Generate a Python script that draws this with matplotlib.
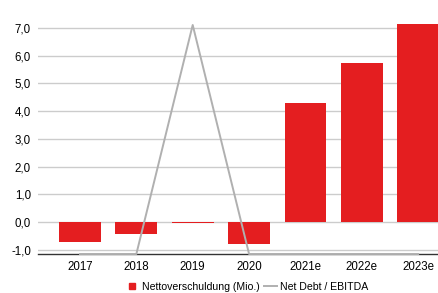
import numpy as np
import matplotlib.pyplot as plt
from matplotlib.lines import Line2D

plt.rcParams['font.family'] = ['Liberation Sans', 'DejaVu Sans']

years = ['2017', '2018', '2019', '2020', '2021e', '2022e', '2023e']
net_debt = [-0.70, -0.42, -0.02, -0.78, 4.28, 5.72, 7.14]
# values below the axis are pinned to the bottom edge, as in the source chart
net_debt_ebitda = [-1.15, -1.15, 7.1, -1.15, -1.15, -1.15, -1.15]
yticks = [-1, 0, 1, 2, 3, 4, 5, 6, 7]

red = '#e41e20'
grey = '#b0b0b0'

fig = plt.figure(figsize=(4.39, 2.93), dpi=100)
ax = fig.add_axes([38 / 439, 39 / 293, 401 / 439, 254 / 293])

x = np.arange(len(years))
ax.bar(x, net_debt, width=0.74, color=red, zorder=2)
ax.plot(x, net_debt_ebitda, color=grey, lw=1.4, zorder=5, clip_on=False)

ax.set_xlim(-0.745, 6.37)
ax.set_ylim(-1.15, 8.0)
ax.set_yticks(yticks)
ax.set_yticklabels([f'{v:.1f}'.replace('.', ',') for v in yticks], fontsize=8.3)
ax.set_xticks(x)
ax.set_xticklabels(years, fontsize=8.3)
ax.tick_params(length=0, pad=5)
ax.grid(True, axis='y', color='#cccccc', lw=1, zorder=0)
for s in ['top', 'right', 'left']:
    ax.spines[s].set_visible(False)
ax.spines['bottom'].set_color('#333333')
ax.spines['bottom'].set_linewidth(1)

handles = [Line2D([], [], ls='none', marker='s', markersize=5, color=red,
                  label='Nettoverschuldung (Mio.)'),
           Line2D([], [], color=grey, lw=1.4, label='Net Debt / EBITDA')]
fig.legend(handles=handles, loc='center', bbox_to_anchor=(247 / 439, 6 / 293),
           ncol=2, frameon=False, fontsize=7.6, handlelength=1.2,
           handletextpad=0.3, columnspacing=0.4)

fig.savefig('out.png', dpi=100)
